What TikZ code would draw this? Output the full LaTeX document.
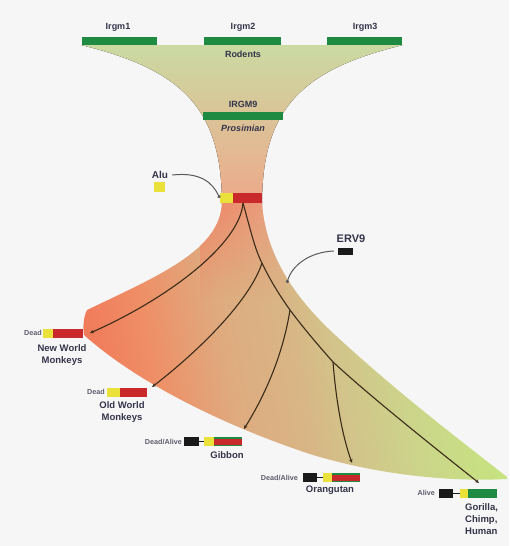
\documentclass[tikz,border=0pt]{standalone}
\usepackage{fontspec}
\setmainfont{Liberation Sans}
\usetikzlibrary{arrows.meta,fadings}
\definecolor{bg}{HTML}{F6F6F6}
\definecolor{gbar}{HTML}{1F8A42}
\definecolor{rbar}{HTML}{C9292B}
\definecolor{ybar}{HTML}{EAE23A}
\definecolor{kbar}{HTML}{1A1A1A}
\definecolor{txt}{HTML}{34344A}
\definecolor{fanTop}{HTML}{CBDAA2}
\definecolor{fanNeck}{HTML}{EEA88A}
\definecolor{fanA}{HTML}{F07A5A}
\definecolor{fanB}{HTML}{EF8E66}
\definecolor{fanC}{HTML}{DEAC80}
\definecolor{fanD}{HTML}{D8B686}
\definecolor{fanE}{HTML}{D2C48A}
\definecolor{fanF}{HTML}{CBD68A}
\definecolor{fanG}{HTML}{C6E47E}
\definecolor{neckL}{HTML}{F08464}
\definecolor{neckR}{HTML}{E8A484}
\definecolor{branch}{HTML}{3A2C18}
% u from 20 to 420 mapped onto 25bp..75bp
\pgfdeclarehorizontalshading{fanshade}{100bp}{color(0bp)=(fanA); color(25.6bp)=(fanA); color(33.1bp)=(fanB); color(43.1bp)=(fanC); color(51.3bp)=(fanD); color(56.3bp)=(fanE); color(65bp)=(fanF); color(75bp)=(fanG); color(100bp)=(fanG)}
\tikzset{
  lbl/.style={font=\bfseries\fontsize{9}{10}\selectfont, text=txt, inner sep=0pt},
  ilbl/.style={font=\bfseries\itshape\fontsize{9}{10}\selectfont, text=txt, inner sep=0pt},
  small/.style={font=\bfseries\fontsize{7.2}{8}\selectfont, text=txt!80, inner sep=0pt, anchor=east},
  sp/.style={font=\bfseries\fontsize{9.5}{12}\selectfont, text=txt, inner sep=0pt, align=center},
  bx/.style={draw=none, inner sep=0pt, minimum height=9pt},
  topbar/.style={fill=gbar, inner sep=0pt, minimum height=8pt},
  tree/.style={draw=branch, line width=1.1pt, -{Stealth[length=4pt,width=3.5pt]}},
  pointer/.style={draw=black!65, line width=1pt, -{Circle[length=3.2pt]}}
}
\def\fanpath{(222,203) .. controls (220,250) and (160,275) .. (87,310)
  .. controls (83,318) and (83,328) .. (84,335)
  .. controls (140,385) and (230,428) .. (313,455)
  .. controls (380,475) and (450,482) .. (507,479)
  -- (507,477) .. controls (460,440) and (400,395) .. (333,333)
  .. controls (290,293) and (265,250) .. (262,203) -- cycle}
\begin{document}
\begin{tikzpicture}[x=1pt,y=-1pt]
\useasboundingbox (0,0) rectangle (509,546);
\fill[bg] (0,0) rectangle (509,546);

% upper funnel
\fill[top color=fanTop, bottom color=fanNeck]
  (81,45) -- (403,45) .. controls (300,70) and (262,110) .. (262,205)
  -- (222,205) .. controls (222,110) and (184,70) .. (81,45) -- cycle;

% lower fan
\begin{scope}
  \clip \fanpath;
  \begin{scope}[transform canvas={rotate=10}]
    \shade[shading=fanshade] (20,200) rectangle (420,600);
  \end{scope}
  \shade[left color=neckL, right color=neckR, path fading=south] (200,200) rectangle (285,300);
\end{scope}

% top labels and bars
\node[lbl] (lirgm1) at (118,27) {Irgm1};
\node[lbl] (lirgm2) at (243,27) {Irgm2};
\node[lbl] (lirgm3) at (365,27) {Irgm3};
\node[topbar, minimum width=75pt] (irgm1) at (119.5,41) {};
\node[topbar, minimum width=77pt] (irgm2) at (242.5,41) {};
\node[topbar, minimum width=75pt] (irgm3) at (364.5,41) {};
\node[lbl] (rodents) at (243,54) {Rodents};
\node[lbl] (lirgm9) at (243,104) {IRGM9};
\node[topbar, minimum width=80pt] (irgm9) at (243,116) {};
\node[ilbl] (prosimian) at (243,128) {Prosimian};

% neck bar
\node[bx, fill=ybar, minimum width=13pt, minimum height=10pt] (ny) at (226.5,198) {};
\node[bx, fill=rbar, minimum width=29pt, minimum height=10pt] (nr) at (247.5,198) {};

% Alu
\node[font=\bfseries\fontsize{10}{11}\selectfont, text=txt, inner sep=0pt] (alu) at (160,175) {Alu};
\node[bx, fill=ybar, minimum width=11pt, minimum height=10pt] (aluy) at (159,187) {};
\draw[pointer] ([xshift=4pt]alu.east) .. controls (200,172) and (212,182) .. (ny.west);

% ERV9
\node[font=\bfseries\fontsize{11}{12}\selectfont, text=txt, inner sep=0pt] (erv) at (351,239) {ERV9};
\node[bx, fill=kbar, minimum width=15pt, minimum height=7pt] (ervk) at (345.5,251) {};
\coordinate (ervpt) at (287,283);
\draw[pointer] ([xshift=-4pt]ervk.west) .. controls (310,252) and (292,265) .. (ervpt);

% tree
\coordinate (R) at (243,203);
\coordinate (B1) at (262,263);
\coordinate (B2) at (290,310);
\coordinate (B3) at (333,362);
\coordinate (tNWM) at (90,333);
\coordinate (tOWM) at (152,387);
\coordinate (tGib) at (244,429);
\coordinate (tOra) at (352,463);
\coordinate (tGor) at (479,483);
\draw[tree] (R) .. controls (240,245) and (165,300) .. (tNWM);
\draw[tree] (R) .. controls (250,228) and (255,250) .. (B1)
  .. controls (270,280) and (280,296) .. (B2)
  .. controls (305,330) and (318,345) .. (B3)
  .. controls (372,398) and (435,448) .. (tGor);
\draw[tree] (B1) .. controls (250,300) and (200,350) .. (tOWM);
\draw[tree] (B2) .. controls (282,360) and (262,400) .. (tGib);
\draw[tree] (B3) .. controls (336,400) and (342,435) .. (tOra);

% New World Monkeys
\node[small] (dNWM) at (42,333) {Dead};
\node[bx, fill=ybar, minimum width=10pt] (yNWM) at (48,333) {};
\node[bx, fill=rbar, minimum width=30pt] (rNWM) at (68,333) {};
\node[sp] (lNWM) at (62,355) {New World\\Monkeys};

% Old World Monkeys
\node[small] (dOWM) at (105,392) {Dead};
\node[bx, fill=ybar, minimum width=13pt] (yOWM) at (113.5,392) {};
\node[bx, fill=rbar, minimum width=27pt] (rOWM) at (133.5,392) {};
\node[sp] (lOWM) at (122,412.5) {Old World\\Monkeys};

% Gibbon
\node[small] (dGib) at (182,442) {Dead/Alive};
\node[bx, fill=kbar, minimum width=15pt] (kGib) at (191.5,441.5) {};
\node[bx, fill=ybar, minimum width=10pt] (yGib) at (209,441.5) {};
\node[bx, fill=gbar, minimum width=28pt] (bGib) at (228,441.5) {};
\fill[rbar] ([yshift=-2.5pt]bGib.north west) rectangle ([yshift=1.5pt]bGib.south east);
\draw[kbar, line width=1pt] (kGib.east) -- (yGib.west);
\node[sp] (lGib) at (227,455) {Gibbon};

% Orangutan
\node[small] (dOra) at (298,478) {Dead/Alive};
\node[bx, fill=kbar, minimum width=14pt] (kOra) at (310,477.5) {};
\node[bx, fill=ybar, minimum width=9pt] (yOra) at (327.5,477.5) {};
\node[bx, fill=gbar, minimum width=28pt] (bOra) at (346,477.5) {};
\fill[rbar] ([yshift=-2.5pt]bOra.north west) rectangle ([yshift=1.5pt]bOra.south east);
\draw[kbar, line width=1pt] (kOra.east) -- (yOra.west);
\node[sp] (lOra) at (330,490) {Orangutan};

% Gorilla, Chimp, Human
\node[small] (dGor) at (435,493) {Alive};
\node[bx, fill=kbar, minimum width=14pt] (kGor) at (446,493) {};
\node[bx, fill=ybar, minimum width=8pt] (yGor) at (464,493) {};
\node[bx, fill=gbar, minimum width=29pt] (bGor) at (482.5,493) {};
\draw[kbar, line width=1pt] (kGor.east) -- (yGor.west);
\node[sp, align=left, anchor=north west] (lGor) at (465,503) {Gorilla,\\Chimp,\\Human};
\end{tikzpicture}
\end{document}
